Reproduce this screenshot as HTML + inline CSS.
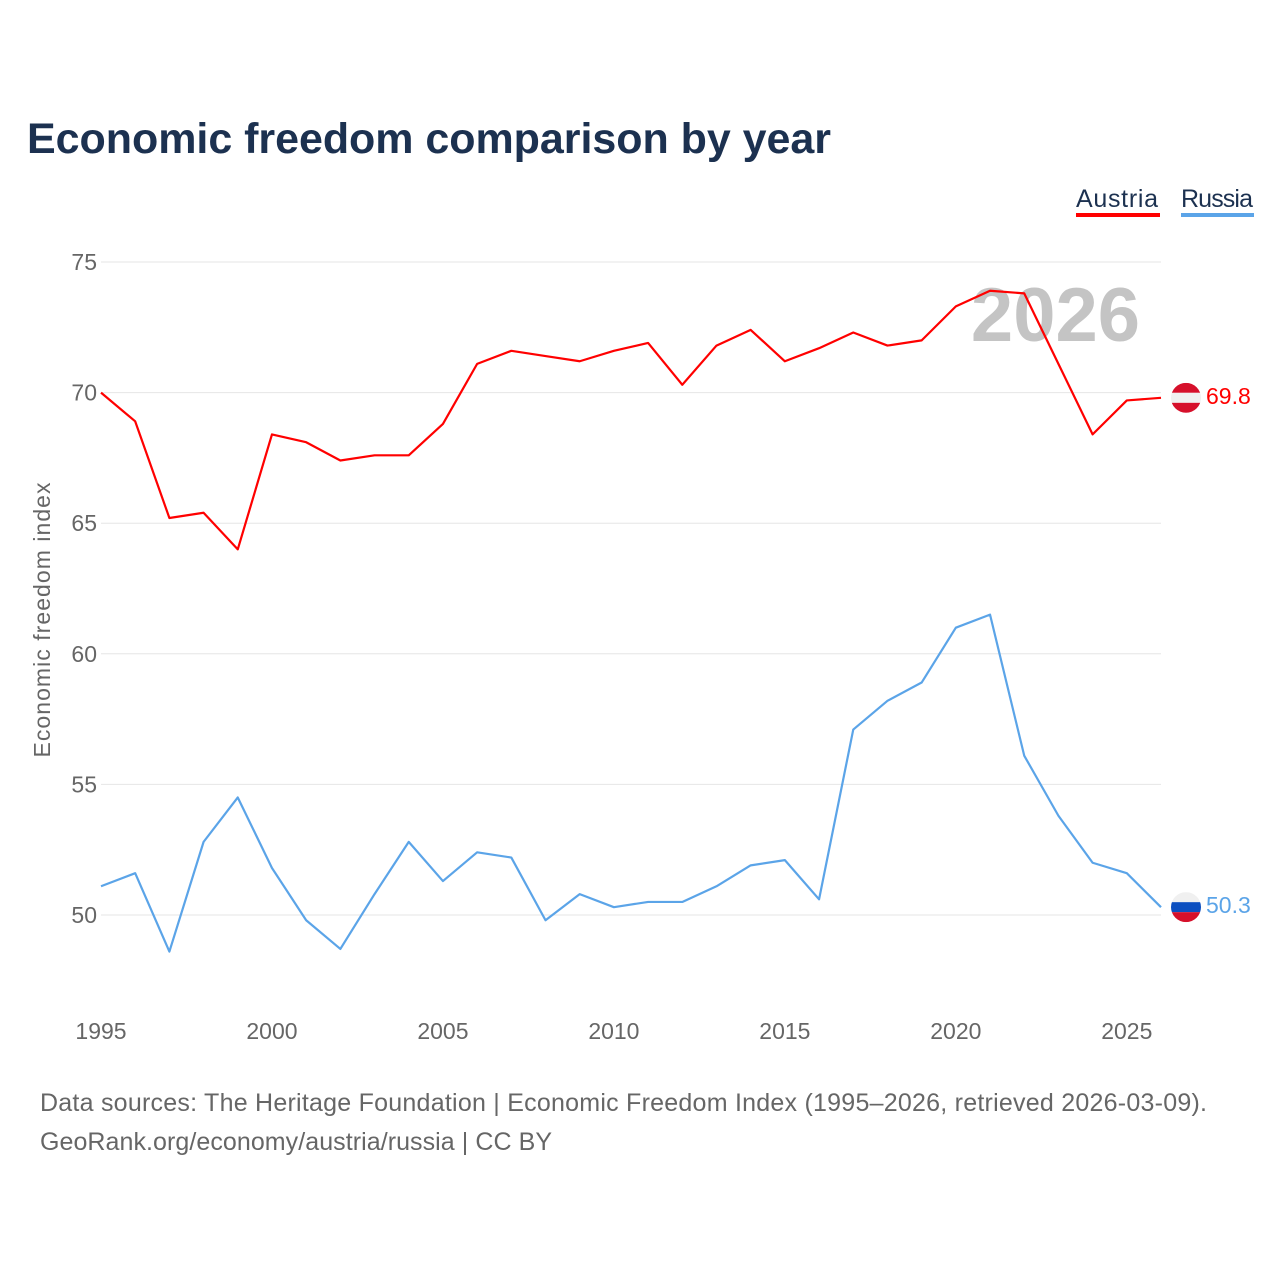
<!DOCTYPE html>
<html><head><meta charset="utf-8"><style>
body{margin:0;background:#fff;font-family:"Liberation Sans",sans-serif;}
svg{display:block}
</style></head><body>
<svg id="chart" width="1280" height="1280" viewBox="0 0 1280 1280">
<text x="27" y="153" font-size="43" font-weight="bold" fill="#1c3150" textLength="804">Economic freedom comparison by year</text>
<g>
<text x="1076" y="207" font-size="25" fill="#1c3150" textLength="82">Austria</text>
<rect x="1076" y="213" width="84" height="4" fill="#ff0000"/>
<text x="1181" y="207" font-size="25" fill="#1c3150" textLength="72">Russia</text>
<rect x="1181" y="213" width="73" height="4" fill="#5ba4e8"/>
</g>
<text x="1140" y="341" font-size="76" font-weight="bold" fill="#c4c4c4" text-anchor="end">2026</text>
<text transform="translate(50,620) rotate(-90)" font-size="23" fill="#666" text-anchor="middle" textLength="275">Economic freedom index</text>
<g id="grid"></g><g id="lines"></g>
<text x="40" y="1111" font-size="25" fill="#666" textLength="1167">Data sources: The Heritage Foundation | Economic Freedom Index (1995–2026, retrieved 2026-03-09).</text>
<text x="40" y="1150" font-size="25" fill="#666" textLength="512">GeoRank.org/economy/austria/russia | CC BY</text>
</svg>
<script>
const years=[1995,1996,1997,1998,1999,2000,2001,2002,2003,2004,2005,2006,2007,2008,2009,2010,2011,2012,2013,2014,2015,2016,2017,2018,2019,2020,2021,2022,2023,2024,2025,2026];
const austria=[70.0,68.9,65.2,65.4,64.0,68.4,68.1,67.4,67.6,67.6,68.8,71.1,71.6,71.4,71.2,71.6,71.9,70.3,71.8,72.4,71.2,71.7,72.3,71.8,72.0,73.3,73.9,73.8,71.1,68.4,69.7,69.8];
const russia=[51.1,51.6,48.6,52.8,54.5,51.8,49.8,48.7,50.8,52.8,51.3,52.4,52.2,49.8,50.8,50.3,50.5,50.5,51.1,51.9,52.1,50.6,57.1,58.2,58.9,61.0,61.5,56.1,53.8,52.0,51.6,50.3];
const yTicks=[50,55,60,65,70,75];
const xTicks=[1995,2000,2005,2010,2015,2020,2025];
const NS="http://www.w3.org/2000/svg";
const X=v=>101+(v-1995)*(1161-101)/31;
const Y=v=>915-(v-50)*(915-262)/25;
const grid=document.getElementById('grid'),lines=document.getElementById('lines');
function mk(tag,attrs,parent){const e=document.createElementNS(NS,tag);for(const k in attrs)e.setAttribute(k,attrs[k]);parent.appendChild(e);return e;}
yTicks.forEach(t=>{
 const l=mk('line',{x1:101,x2:1161,y1:Y(t),y2:Y(t),stroke:'#e6e6e6','stroke-width':1},grid);
 
 
 const tx=mk('text',{x:97,y:Y(t)+8,'font-size':23,fill:'#666','text-anchor':'end'},grid);
 tx.textContent=t;
 
 
});
xTicks.forEach(t=>{
 const tx=mk('text',{x:X(t),y:1039,'font-size':23,fill:'#666','text-anchor':'middle'},grid);
 tx.textContent=t;
 
 
});
function series(vals,color,name,c1){
 const p=mk('polyline',{points:vals.map((v,i)=>X(years[i])+','+Y(v)).join(' '),fill:'none',stroke:color,'stroke-width':2.2,'stroke-linejoin':'round'},lines);
 
 
 const last=vals[vals.length-1],cy=Y(last),cx=1186;
 const g=mk('g',{},lines);
 
 
 mk('clipPath',{id:'c'+name},g);
 mk('circle',{cx:cx,cy:cy,r:15},g.lastChild);
 const gg=mk('g',{'clip-path':'url(#c'+name+')'},g);
 c1.forEach((c,i)=>mk('rect',{x:cx-15,y:cy-15+i*10,width:30,height:10,fill:c},gg));
 const tx=mk('text',{x:1206,y:cy+6,'font-size':23,fill:color},lines);
 tx.textContent=last.toFixed(1);
 
 
}
series(austria,'#ff0000','austria',['#d6102b','#f0f0f0','#d6102b']);
series(russia,'#5ba4e8','russia',['#f0f0f0','#0c4fc0','#d6102b']);
</script>
</body></html>
